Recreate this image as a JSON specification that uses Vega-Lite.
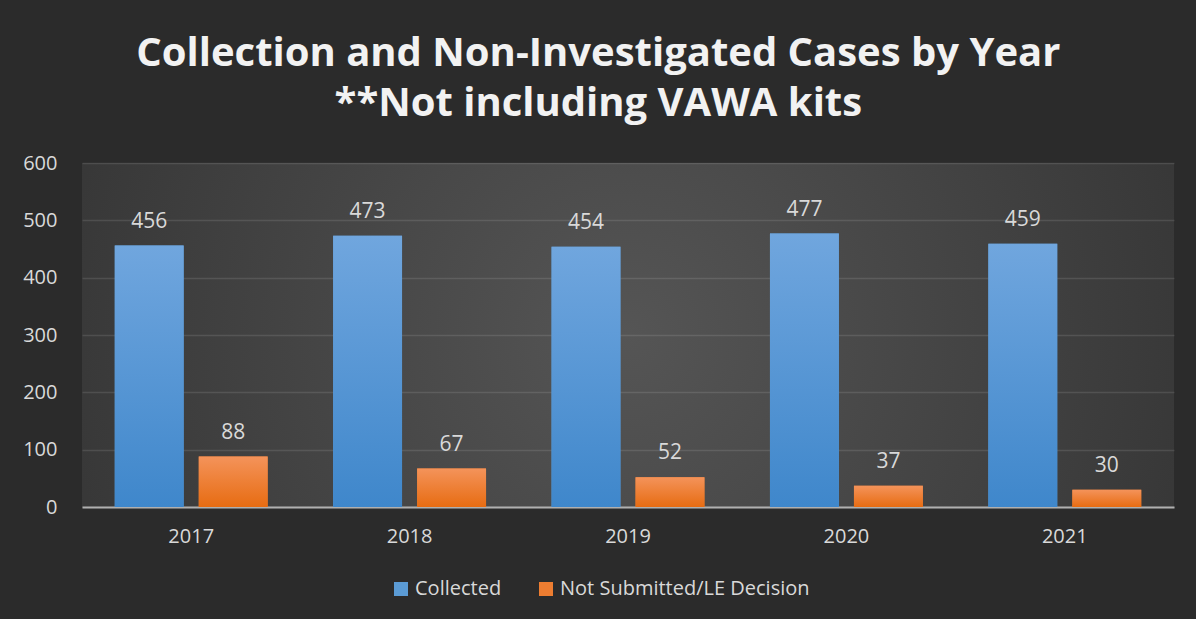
{
  "$schema": "https://vega.github.io/schema/vega-lite/v6.json",
  "width": 1092,
  "height": 344,
  "autosize": {"type": "pad"},
  "padding": {"left": 22, "top": 34, "right": 23, "bottom": 20},
  "background": "#2b2b2b",
  "config": {
    "font": "Open Sans",
    "view": {
      "stroke": null,
      "fill": {"gradient": "radial", "x1": 0.5, "y1": 0.5, "r1": 0, "x2": 0.5, "y2": 0.5, "r2": 0.75,
        "stops": [{"offset": 0, "color": "#555555"}, {"offset": 1, "color": "#2b2b2b"}]}
    }
  },
  "title": {
    "text": ["Collection and Non-Investigated Cases by Year", "**Not including VAWA kits"],
    "color": "#f2f2f2",
    "font": "Open Sans",
    "fontSize": 40,
    "fontWeight": "bold",
    "lineHeight": 50,
    "anchor": "middle",
    "frame": "bounds",
    "offset": 29
  },
  "data": {
    "values": [
      {"year": "2017", "series": "Collected", "value": 456},
      {"year": "2017", "series": "Not Submitted/LE Decision", "value": 88},
      {"year": "2018", "series": "Collected", "value": 473},
      {"year": "2018", "series": "Not Submitted/LE Decision", "value": 67},
      {"year": "2019", "series": "Collected", "value": 454},
      {"year": "2019", "series": "Not Submitted/LE Decision", "value": 52},
      {"year": "2020", "series": "Collected", "value": 477},
      {"year": "2020", "series": "Not Submitted/LE Decision", "value": 37},
      {"year": "2021", "series": "Collected", "value": 459},
      {"year": "2021", "series": "Not Submitted/LE Decision", "value": 30}
    ]
  },
  "encoding": {
    "x": {
      "field": "year", "type": "nominal",
      "scale": {"paddingInner": 0.3, "paddingOuter": 0.15},
      "axis": {
        "title": null, "labelAngle": 0, "labelColor": "#d9d9d9", "labelFontSize": 20,
        "labelFont": "Open Sans", "labelPadding": 19, "ticks": false,
        "domain": true, "domainColor": "#b0b0b0", "domainWidth": 2, "grid": false
      }
    },
    "xOffset": {
      "field": "series", "type": "nominal",
      "sort": ["Collected", "Not Submitted/LE Decision"],
      "scale": {"paddingInner": 0.18}
    },
    "y": {
      "field": "value", "type": "quantitative",
      "scale": {"domain": [0, 600]},
      "axis": {
        "title": null, "values": [0, 100, 200, 300, 400, 500, 600],
        "labelColor": "#d9d9d9", "labelFontSize": 20, "labelFont": "Open Sans",
        "labelPadding": 25, "ticks": false, "domain": false,
        "gridColor": "#ffffff", "gridOpacity": 0.11, "gridWidth": 1.5
      }
    }
  },
  "layer": [
    {
      "mark": {"type": "bar"},
      "encoding": {
        "color": {
          "field": "series", "type": "nominal",
          "scale": {
            "domain": ["Collected", "Not Submitted/LE Decision"],
            "range": ["#5b9bd5", "#ed7d31"]
          },
          "legend": {
            "title": null, "orient": "none", "legendX": 309, "legendY": 416, "direction": "horizontal",
            "symbolType": "square", "symbolSize": 196, "symbolStrokeWidth": 0, "symbolOpacity": 1,
            "labelColor": "#d9d9d9", "labelFontSize": 20, "labelFont": "Open Sans", "labelLimit": 0,
            "columnPadding": 34, "labelOffset": 4
          }
        }
      }
    },
    {
      "mark": {"type": "bar"},
      "encoding": {
        "fill": {
          "condition": {
            "test": "datum.series === 'Collected'",
            "value": {"gradient": "linear", "x1": 0, "y1": 0, "x2": 0, "y2": 1,
              "stops": [{"offset": 0, "color": "#70a6de"}, {"offset": 1, "color": "#3f87cb"}]}
          },
          "value": {"gradient": "linear", "x1": 0, "y1": 0, "x2": 0, "y2": 1,
            "stops": [{"offset": 0, "color": "#f4935a"}, {"offset": 1, "color": "#e76c12"}]}
        }
      }
    },
    {
      "mark": {"type": "text", "baseline": "bottom", "dy": -14, "fontSize": 21, "color": "#d9d9d9", "font": "Open Sans"},
      "encoding": {"text": {"field": "value", "type": "quantitative"}}
    }
  ]
}
